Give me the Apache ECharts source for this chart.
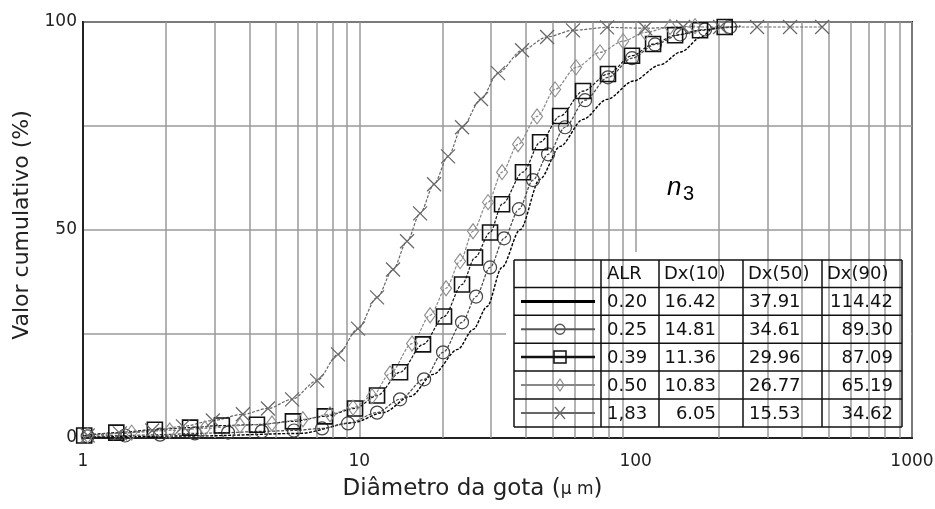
<!DOCTYPE html>
<html><head><meta charset="utf-8">
<script src="https://cdn.jsdelivr.net/npm/echarts@6/dist/echarts.min.js"></script>
<style>html,body{margin:0;padding:0;background:#fff}#c{width:935px;height:509px}</style>
</head><body><div id="c"></div>
<script>
// ---- data ----
const x020 = [1.01, 2.65, 6.1, 9.5, 12.2, 15.3, 18.5, 22.7, 25.8, 29.0, 32.8, 38.2, 45.0, 53.3, 64.5, 78.8, 98.0, 122.5, 145.7, 172.9, 190.8, 239.6];
const y020 = [0.2, 0.5, 1.1, 3.7, 6.1, 10.0, 15.3, 21.3, 26.1, 31.6, 41.0, 50.1, 62.2, 70.1, 76.6, 81.4, 85.8, 89.7, 92.8, 96.4, 98.5, 99.0];

const x025 = [1.04, 1.42, 1.90, 2.54, 3.35, 4.44, 5.80, 7.33, 9.10, 11.59, 14.04, 17.15, 20.09, 23.53, 26.45, 29.72, 33.4, 37.8, 42.5, 48.2, 55.5, 65.6, 79.4, 97.0, 117.5, 144.8, 178.3, 219.6];
const y025 = [0.4, 0.6, 0.8, 1.1, 1.3, 1.6, 1.8, 2.3, 3.5, 6.1, 9.3, 14.1, 20.6, 27.8, 34.0, 41.0, 48.0, 55.0, 62.0, 68.2, 74.7, 81.2, 86.7, 91.3, 94.6, 97.0, 98.2, 98.8];

const x039 = [1.01, 1.32, 1.82, 2.44, 3.18, 4.26, 5.75, 7.51, 9.65, 11.59, 14.04, 17.0, 20.25, 23.53, 26.22, 29.72, 32.85, 39.1, 45.1, 53.3, 64.5, 79.4, 97.0, 115.6, 138.9, 171, 210];
const y039 = [0.6, 1.3, 2.0, 2.5, 3.0, 3.2, 4.0, 5.2, 7.1, 10.2, 15.8, 22.5, 29.2, 36.9, 43.4, 49.4, 56.2, 63.9, 71.1, 77.4, 83.4, 87.5, 91.9, 94.7, 96.8, 98.0, 98.8];

const x050 = [1.04, 1.50, 2.06, 2.76, 3.70, 4.83, 6.25, 7.83, 9.49, 11.12, 12.92, 15.51, 18.03, 20.6, 23.15, 25.79, 29.23, 32.85, 37.53, 43.96, 51.09, 60.84, 74.3, 90.1, 108.2, 133.2, 164];
const y050 = [0.6, 1.3, 1.8, 2.3, 3.0, 3.5, 4.5, 5.7, 7.3, 10.0, 15.5, 22.7, 29.5, 36.0, 42.5, 49.7, 56.7, 63.9, 70.6, 77.3, 83.8, 89.1, 92.7, 95.4, 97.5, 98.8, 99.0];

const x183 = [1.04, 1.36, 1.78, 2.30, 2.95, 3.79, 4.67, 5.71, 7.03, 8.37, 9.89, 11.59, 13.24, 14.88, 16.59, 18.64, 20.94, 23.53, 27.57, 31.77, 38.8, 47.8, 59.3, 78.8, 108.2, 148.5, 202.1, 275, 362, 473];
const y183 = [0.6, 1.1, 1.8, 2.8, 4.2, 5.7, 7.1, 9.3, 13.8, 20.1, 26.3, 33.8, 40.5, 47.3, 54.0, 61.0, 67.7, 74.7, 81.5, 87.7, 93.2, 96.4, 98.0, 98.7, 98.5, 98.8, 98.8, 98.8, 98.8, 98.8];

const minorGridX = [2, 3, 4, 5, 6, 7, 8, 9, 20, 30, 40, 50, 60, 70, 80, 90, 200, 300, 400, 500, 600, 700, 800, 900];
const yLabelTicks = [0, 50, 100];

const tableHeader = ['', 'ALR', 'Dx(10)', 'Dx(50)', 'Dx(90)'];
const alrValues = ['0.20', '0.25', '0.39', '0.50', '1,83'];
const dx10Values = ['16.42', '14.81', '11.36', '10.83', '6.05'];
const dx50Values = ['37.91', '34.61', '29.96', '26.77', '15.53'];
const dx90Values = ['114.42', '89.30', '87.09', '65.19', '34.62'];

// ---- chart ----
const chart = echarts.init(document.getElementById('c'), null, {renderer: 'canvas'});
const FONT = '"DejaVu Sans", "Liberation Sans", sans-serif';
const GRID = '#9a9a9a';
const pairs = (xs, ys) => xs.map((v, i) => [v, ys[i]]);

const baseLine = (name, xs, ys, color, extra) => Object.assign({
  name, type: 'line', data: pairs(xs, ys), z: 10,
  smooth: 0.3, smoothMonotone: 'x',
  lineStyle: {color, width: 1.2, type: [3, 1.5]},
  emphasis: {disabled: true}, silent: true, animation: false
}, extra);

// table geometry
const colX = [514, 601, 659, 743, 822, 902];
const rowY = [260, 287.5, 315.3, 343.2, 371, 399, 427];
const graphics = [];
graphics.push({type: 'rect', z: 5, shape: {x: 506, y: 252, width: 405, height: 185}, style: {fill: '#fff'}});
const TL = {stroke: '#111', lineWidth: 1.5};
colX.forEach(x => graphics.push({type: 'line', z: 6, shape: {x1: x, y1: rowY[0], x2: x, y2: rowY[rowY.length - 1]}, style: TL}));
rowY.forEach(y => graphics.push({type: 'line', z: 6, shape: {x1: colX[0], y1: y, x2: colX[colX.length - 1], y2: y}, style: TL}));
const txt = (text, x, y, align) => ({type: 'text', z: 7, x, y, style: {text, font: '18px ' + FONT, fill: '#111', align, verticalAlign: 'middle', textAlign: align, textVerticalAlign: 'middle'}});
const hc = (rowY[0] + rowY[1]) / 2 + 1;
graphics.push(txt(tableHeader[1], 607, hc, 'left'));
graphics.push(txt(tableHeader[2], 664, hc, 'left'));
graphics.push(txt(tableHeader[3], 748, hc, 'left'));
graphics.push(txt(tableHeader[4], 827, hc, 'left'));
alrValues.forEach((v, i) => {
  const cy = (rowY[i + 1] + rowY[i + 2]) / 2 + 1;
  graphics.push(txt(v, 607, cy, 'left'));
  graphics.push(txt(dx10Values[i], 716, cy, 'right'));
  graphics.push(txt(dx50Values[i], 749, cy, 'left'));
  graphics.push(txt(dx90Values[i], 893, cy, 'right'));
});
// legend samples
const sampleStyles = [
  {c: '#000', w: 3}, {c: '#555', w: 2}, {c: '#111', w: 2.5}, {c: '#888', w: 2}, {c: '#666', w: 2}
];
sampleStyles.forEach((s, i) => {
  const cy = (rowY[i + 1] + rowY[i + 2]) / 2;
  graphics.push({type: 'line', z: 7, shape: {x1: 521, y1: cy, x2: 595, y2: cy}, style: {stroke: s.c, lineWidth: s.w}});
  const cx = 560;
  if (i === 1) graphics.push({type: 'circle', z: 8, shape: {cx, cy, r: 5}, style: {fill: 'none', stroke: s.c, lineWidth: 1.3}});
  if (i === 2) graphics.push({type: 'rect', z: 8, shape: {x: cx - 6, y: cy - 6, width: 12, height: 12}, style: {fill: 'none', stroke: s.c, lineWidth: 1.5}});
  if (i === 3) graphics.push({type: 'polygon', z: 8, shape: {points: [[cx, cy - 6], [cx + 4, cy], [cx, cy + 6], [cx - 4, cy]]}, style: {fill: 'none', stroke: s.c, lineWidth: 1.2}});
  if (i === 4) {
    graphics.push({type: 'line', z: 8, shape: {x1: cx - 5, y1: cy - 6, x2: cx + 5, y2: cy + 6}, style: {stroke: s.c, lineWidth: 1.2}});
    graphics.push({type: 'line', z: 8, shape: {x1: cx + 5, y1: cy - 6, x2: cx - 5, y2: cy + 6}, style: {stroke: s.c, lineWidth: 1.2}});
  }
});
// n3 label
graphics.push({type: 'text', z: 8, x: 667, y: 188, style: {text: 'n', font: 'italic 26px "Liberation Sans", sans-serif', fill: '#000', align: 'left', verticalAlign: 'middle', textAlign: 'left', textVerticalAlign: 'middle'}});
graphics.push({type: 'text', z: 8, x: 683, y: 194, style: {text: '3', font: '20px "Liberation Sans", sans-serif', fill: '#000', align: 'left', verticalAlign: 'middle', textAlign: 'left', textVerticalAlign: 'middle'}});

const option = {
  backgroundColor: '#fff',
  animation: false,
  grid: {left: 83, top: 22, right: 23, bottom: 71, containLabel: false, outerBoundsMode: 'none',
         show: true, borderColor: '#222', borderWidth: 2, backgroundColor: 'transparent'},
  xAxis: {
    type: 'log', logBase: 10, min: 1, max: 1000,
    axisLine: {show: true, onZero: false, lineStyle: {color: '#222', width: 2}},
    axisTick: {show: false},
    minorTick: {show: false},
    axisLabel: {fontSize: 17, fontFamily: FONT, color: '#222', margin: 15, formatter: v => String(v)},
    splitLine: {show: true, lineStyle: {color: GRID, width: 1.5}},
    name: 'Diâmetro da gota ({u|µ m})',
    nameLocation: 'middle', nameGap: 40,
    nameTextStyle: {fontSize: 23, fontFamily: FONT, color: '#222', padding: [0, 50, 0, 0],
      rich: {u: {fontSize: 17, fontFamily: FONT, color: '#222'}}}
  },
  yAxis: {
    type: 'value', min: 0, max: 100, interval: 25,
    axisLine: {show: true, lineStyle: {color: '#222', width: 2}},
    axisTick: {show: false},
    axisLabel: {fontSize: 17, fontFamily: FONT, color: '#222', margin: 6,
      formatter: v => yLabelTicks.includes(v) ? String(v) : ''},
    splitLine: {show: true, lineStyle: {color: GRID, width: 1.5}},
    name: 'Valor cumulativo (%)',
    nameLocation: 'middle', nameGap: 45, nameRotate: 90,
    nameTextStyle: {fontSize: 22, fontFamily: FONT, color: '#222', padding: [0, 0, 0, 10]}
  },
  graphic: {elements: graphics},
  series: [
    {type: 'line', data: [], z: 1, silent: true,
     markLine: {silent: true, symbol: ['none', 'none'], label: {show: false}, animation: false,
       lineStyle: {color: GRID, width: 1.5, type: 'solid'}, emphasis: {disabled: true},
       data: minorGridX.map(v => ({xAxis: v}))}},
    baseLine('0.20', x020, y020, '#000', {showSymbol: false, symbol: 'none', lineStyle: {color: '#000', width: 1.4, type: [3, 1.5]}}),
    baseLine('0.25', x025, y025, '#444', {symbol: 'circle', symbolSize: 13,
      itemStyle: {color: 'rgba(0,0,0,0)', borderColor: '#444', borderWidth: 1.2}}),
    baseLine('0.39', x039, y039, '#111', {symbol: 'rect', symbolSize: 15,
      itemStyle: {color: 'rgba(0,0,0,0)', borderColor: '#111', borderWidth: 1.6}}),
    baseLine('0.50', x050, y050, '#888', {symbol: 'diamond', symbolSize: [11, 15],
      itemStyle: {color: 'rgba(0,0,0,0)', borderColor: '#8a8a8a', borderWidth: 1.1}}),
    baseLine('1.83', x183, y183, '#666', {symbol: 'path://M0,0L10,10M10,0L0,10', symbolSize: 14,
      itemStyle: {color: 'rgba(0,0,0,0)', borderColor: '#666', borderWidth: 1.2}})
  ]
};
chart.setOption(option);
</script>
</body></html>
